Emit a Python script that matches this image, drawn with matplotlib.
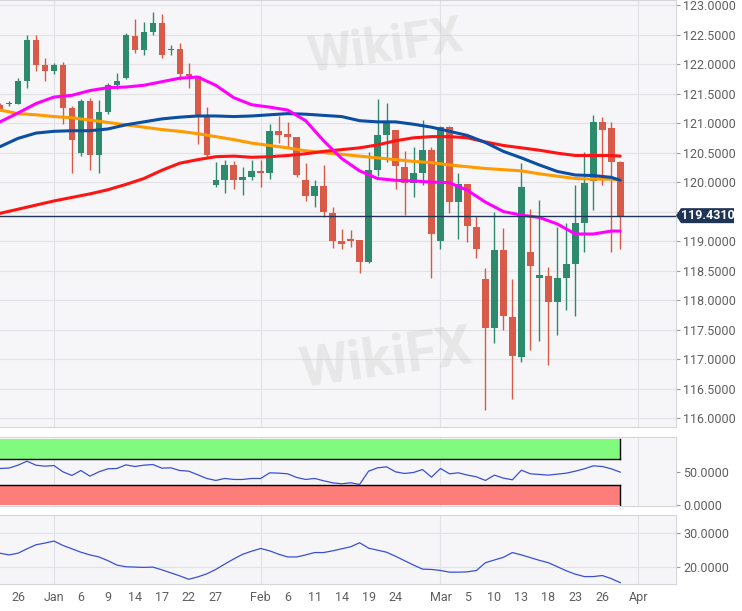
import matplotlib
matplotlib.use('Agg')
import matplotlib.pyplot as plt
from matplotlib.patches import Rectangle, Polygon
import numpy as np

plt.rcParams['font.family'] = ['Roboto', 'DejaVu Sans']

# trading day index, 0 = Dec 26
days = list(range(-2, 68))
opens = [121.31, 121.32, 121.33, 121.71, 122.40, 121.98, 121.88, 121.98, 121.26, 120.49,
         121.37, 120.46, 121.18, 121.64, 121.77, 122.48, 122.24, 122.54, 122.70, 122.24,
         122.25, 121.83, 121.80, 121.14, 119.95, 120.03, 120.29, 120.03, 120.09, 120.19,
         120.16, 120.87, 120.81, 120.76, 120.03, 119.76, 119.93, 119.48, 119.00, 119.03,
         119.02, 118.65, 120.20, 120.80, 120.89, 120.26, 119.99, 120.16, 120.54, 119.00,
         120.94, 119.67, 119.97, 119.24, 118.36, 117.52, 118.85, 117.72, 117.04, 118.82,
         118.38, 118.41, 117.97, 118.38, 118.61, 119.31, 120.01, 121.01, 120.92, 120.34]
highs = [121.34, 121.37, 121.77, 122.50, 122.49, 122.10, 122.01, 122.03, 121.29, 121.41,
         121.43, 121.39, 121.68, 121.84, 122.52, 122.76, 122.72, 122.88, 122.84, 122.32,
         122.36, 122.01, 121.80, 121.27, 120.34, 120.38, 120.36, 120.25, 120.37, 120.37,
         120.98, 121.12, 121.01, 120.76, 120.33, 120.03, 120.29, 119.58, 119.21, 119.19,
         119.02, 120.51, 121.40, 121.34, 120.89, 120.53, 120.60, 121.05, 120.60, 120.95,
         120.95, 120.15, 119.97, 119.42, 118.55, 119.50, 119.23, 118.36, 120.32, 119.55,
         119.69, 118.56, 119.24, 119.30, 119.95, 120.51, 121.14, 121.10, 121.01, 120.36]
lows = [121.20, 121.29, 121.32, 121.60, 121.88, 121.72, 121.83, 120.98, 120.16, 120.45,
        120.21, 120.16, 121.16, 121.57, 121.75, 122.18, 122.15, 122.50, 122.11, 122.16,
        121.73, 121.60, 120.64, 120.43, 119.91, 119.81, 119.89, 119.78, 120.03, 119.91,
        120.06, 120.66, 120.60, 120.09, 119.68, 119.58, 119.41, 118.89, 118.86, 118.90,
        118.46, 118.63, 120.10, 120.34, 119.89, 119.45, 119.75, 119.95, 118.38, 118.86,
        119.47, 119.03, 118.99, 118.71, 116.14, 117.27, 117.49, 116.32, 116.95, 117.15,
        117.31, 116.90, 117.41, 117.84, 117.73, 118.81, 119.53, 119.95, 118.82, 118.86]
closes = [121.22, 121.33, 121.71, 122.40, 121.98, 121.88, 121.98, 121.26, 120.71, 121.37,
          120.46, 121.18, 121.64, 121.72, 122.50, 122.24, 122.54, 122.70, 122.15, 122.26,
          121.83, 121.80, 121.14, 120.46, 120.03, 120.29, 120.03, 120.08, 120.19, 120.16,
          120.87, 120.80, 120.76, 120.12, 119.76, 119.93, 119.50, 119.01, 118.95, 119.01,
          118.65, 120.20, 120.80, 121.00, 120.27, 119.99, 120.16, 120.54, 119.12, 120.94,
          119.67, 119.97, 119.25, 118.86, 117.52, 118.85, 117.73, 117.05, 119.91, 118.58,
          118.42, 117.97, 118.38, 118.61, 119.30, 119.99, 121.01, 120.88, 120.34, 119.43]

# moving averages, read every second day
ma_days = list(range(-2, 67, 2)) + [67]
sma20 = [121.02, 121.17, 121.33, 121.44, 121.47, 121.55, 121.60, 121.61, 121.64, 121.70,
         121.76, 121.78, 121.64, 121.43, 121.31, 121.27, 121.22, 121.04, 120.70, 120.40,
         120.19, 120.06, 120.03, 120.02, 120.00, 119.99, 119.86, 119.66, 119.50, 119.44,
         119.40, 119.29, 119.12, 119.12, 119.17, 119.17]
sma50 = [120.60, 120.74, 120.83, 120.86, 120.87, 120.87, 120.90, 120.97, 121.02, 121.07,
         121.10, 121.12, 121.12, 121.11, 121.12, 121.14, 121.16, 121.15, 121.13, 121.11,
         121.04, 121.02, 121.02, 120.98, 120.93, 120.86, 120.79, 120.67, 120.52, 120.41,
         120.29, 120.18, 120.12, 120.11, 120.08, 120.03]
sma100 = [119.47, 119.54, 119.61, 119.68, 119.74, 119.80, 119.87, 119.96, 120.06, 120.20,
          120.32, 120.38, 120.43, 120.44, 120.42, 120.43, 120.45, 120.48, 120.52, 120.55,
          120.58, 120.63, 120.70, 120.75, 120.77, 120.77, 120.75, 120.68, 120.62, 120.58,
          120.54, 120.49, 120.45, 120.45, 120.45, 120.44]
sma200 = [121.22, 121.16, 121.14, 121.11, 121.09, 121.05, 121.01, 120.97, 120.93, 120.89,
          120.86, 120.82, 120.77, 120.72, 120.66, 120.62, 120.58, 120.53, 120.50, 120.47,
          120.44, 120.41, 120.38, 120.35, 120.33, 120.29, 120.26, 120.23, 120.21, 120.19,
          120.14, 120.10, 120.06, 120.05, 120.05, 120.03]

rsi = [55.6, 56.3, 60.6, 66.7, 60.6, 59.1, 60.1, 50.5, 45.0, 52.5,
       43.9, 50.5, 55.1, 55.6, 61.1, 58.6, 60.6, 61.6, 56.1, 56.6,
       52.5, 51.5, 46.0, 40.4, 37.4, 40.4, 38.9, 38.9, 40.4, 40.4,
       49.0, 48.5, 47.5, 41.9, 38.9, 40.4, 36.9, 33.8, 32.3, 33.8,
       31.3, 51.5, 56.6, 58.1, 50.5, 48.0, 49.5, 54.0, 42.4, 55.6,
       47.5, 49.0, 45.5, 42.9, 37.4, 45.5, 40.9, 38.4, 53.0, 47.5,
       46.5, 45.5, 47.0, 48.5, 51.5, 55.1, 59.6, 58.6, 55.1, 50.0]
adx = [24.1, 23.6, 24.1, 25.4, 26.6, 27.1, 27.7, 26.4, 25.4, 24.4,
       23.6, 23.0, 21.9, 20.6, 20.1, 20.0, 19.9, 20.0, 19.2, 18.3,
       17.4, 16.4, 17.1, 18.0, 19.3, 20.9, 22.4, 23.8, 24.7, 25.5,
       24.8, 23.8, 23.0, 23.0, 23.6, 24.3, 24.3, 24.8, 25.4, 26.0,
       27.2, 25.6, 25.0, 24.4, 23.2, 21.9, 20.6, 19.4, 19.3, 19.0,
       18.5, 18.5, 18.6, 19.0, 21.3, 22.1, 22.9, 24.3, 23.6, 22.8,
       22.0, 21.3, 20.1, 18.9, 17.9, 17.2, 17.2, 17.5, 16.6, 15.4]

last_price = 119.431
rsi_high = [70, 100]
rsi_low = [0, 30]

tick_pos = [0, 4, 7, 10, 13, 16, 19, 22, 27, 30, 33, 36, 39, 42, 47, 50, 53, 56, 59, 62, 65, 69]
tick_labels = ['26', 'Jan', '6', '9', '14', '17', '22', '27', 'Feb', '6', '11', '14',
               '19', '24', 'Mar', '5', '10', '13', '18', '23', '26', 'Apr']
month_starts = [4, 27, 47, 69]

GREEN = '#2e8a6c'
RED = '#d85a49'
BG = '#f6f6f8'
GRID = '#e2e2e6'
TXT = '#5f5f5f'

fig = plt.figure(figsize=(7.42, 6.11), dpi=100)
fig.patch.set_facecolor('white')
W = 676 / 742
ax1 = fig.add_axes([0, 1 - 427 / 611, W, 427 / 611])
ax2 = fig.add_axes([0, 1 - 506 / 611, W, (506 - 437) / 611])
ax3 = fig.add_axes([0, 1 - 584 / 611, W, (584 - 515) / 611])

x_end = days[-1]
for ax in (ax1, ax2, ax3):
    ax.set_facecolor(BG)
    ax.set_xlim(-2, 73.2)
    ax.yaxis.tick_right()
    ax.tick_params(axis='y', colors='#9a9a9a', labelcolor=TXT, labelsize=9, length=3, pad=2)
    ax.tick_params(axis='x', length=0)
    for s in ax.spines.values():
        s.set_color('#d6d6da')
        s.set_linewidth(0.8)
    ax.spines['left'].set_visible(False)
    for m in month_starts:
        ax.axvline(m, color=GRID, lw=0.8, zorder=0)

# main price panel
ax1.set_ylim(115.85, 123.085)
yt = np.arange(116, 123.01, 0.5)
ax1.set_yticks(yt)
# the 119.5 label sits under the last price tag
ax1.set_yticklabels(['' if abs(v - 119.5) < 1e-6 else '%.4f' % v for v in yt])
ax1.set_xticks([])
for v in yt:
    ax1.axhline(v, color=GRID, lw=0.8, zorder=0)

for d, o, h, l, c in zip(days, opens, highs, lows, closes):
    col = GREEN if c >= o else RED
    ax1.vlines(d, l, h, color=col, lw=1, zorder=2)
    ax1.add_patch(Rectangle((d - 0.36, min(o, c)), 0.72, max(abs(c - o), 0.02),
                            fc=col, ec=col, lw=0, zorder=3))

ax1.plot(ma_days, sma200, color='#ff9a00', lw=2.2, zorder=4, solid_capstyle='round')
ax1.plot(ma_days, sma100, color='#ff1414', lw=2.2, zorder=4, solid_capstyle='round')
ax1.plot(ma_days, sma50, color='#0b4ea2', lw=2.2, zorder=4, solid_capstyle='round')
ax1.plot(ma_days, sma20, color='#ff00ff', lw=2.2, zorder=4, solid_capstyle='round')

ax1.axhline(last_price, color='#1f3556', lw=1, zorder=5)

# watermark
fig.text(0.52, 1 - 360 / 611, 'WikiFX', fontsize=40, fontweight='bold', color='#b8b2ad',
         alpha=0.22, rotation=8, ha='center', va='center')
fig.text(0.52, 1 - 48 / 611, 'WikiFX', fontsize=36, fontweight='bold', color='#b8b2ad',
         alpha=0.22, rotation=8, ha='center', va='center')

# last price tag
fig.canvas.draw()
yd = ax1.transData.transform((0, last_price))[1]
yf = fig.transFigure.inverted().transform((0, yd))[1]
h = 7.5 / 611
x0 = 676 / 742
x1 = 681 / 742
x2 = 734 / 742
tag = Polygon([(x0, yf), (x1, yf + h), (x2, yf + h), (x2, yf - h), (x1, yf - h)],
              closed=True, transform=fig.transFigure, fc='#1f3556', ec='none', zorder=10)
fig.patches.append(tag)
fig.text((x1 + x2) / 2, yf, '%.4f' % last_price, color='white', fontsize=9,
         fontweight='bold', ha='center', va='center', zorder=11)

# RSI panel
ax2.set_ylim(-1.5, 103.5)
ax2.set_yticks([0, 50])
ax2.set_yticklabels(['0.0000', '50.0000'])
ax2.set_xticks([])
ax2.fill_between([-2, x_end], rsi_high[0], rsi_high[1], color='#80fb7e', lw=0, zorder=1)
ax2.fill_between([-2, x_end], rsi_low[0], rsi_low[1], color='#fd7d7b', lw=0, zorder=1)
ax2.plot([-2, x_end], [rsi_high[0], rsi_high[0]], color='black', lw=1, zorder=2)
ax2.plot([-2, x_end], [rsi_low[1], rsi_low[1]], color='black', lw=1, zorder=2)
ax2.plot([x_end, x_end], rsi_high, color='black', lw=1, zorder=2)
ax2.plot([x_end, x_end], rsi_low, color='black', lw=1, zorder=2)
ax2.plot(days, rsi, color='#3a4fd6', lw=0.9, zorder=3)

# lower panel
ax3.set_ylim(15.0, 35.4)
ax3.set_yticks([20, 30])
ax3.set_yticklabels(['20.0000', '30.0000'])
for v in (20, 30):
    ax3.axhline(v, color=GRID, lw=0.8, zorder=0)
ax3.plot(days, adx, color='#3a4fd6', lw=0.9, zorder=3)
ax3.set_xticks(tick_pos)
ax3.set_xticklabels(tick_labels, color=TXT, fontsize=9)
ax3.tick_params(axis='x', pad=5)

fig.savefig('out.png', dpi=100, facecolor='white')
